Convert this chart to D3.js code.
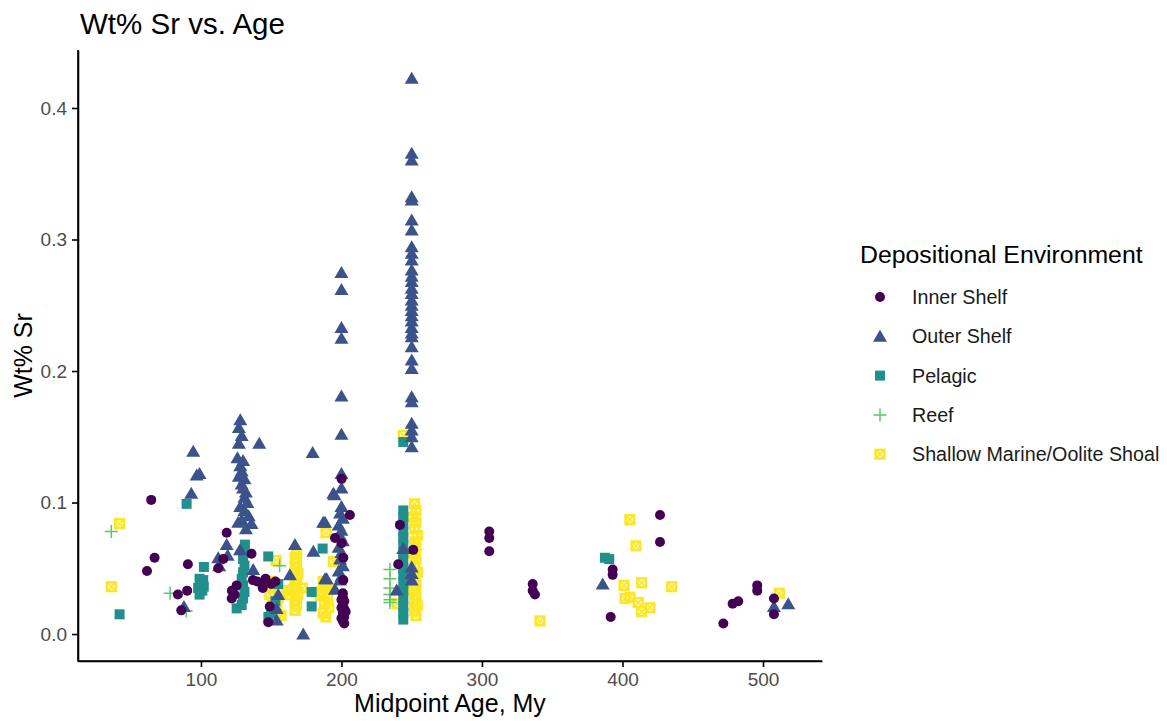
<!DOCTYPE html>
<html>
<head>
<meta charset="utf-8">
<script src="https://cdn.jsdelivr.net/npm/d3@7"></script>
<style>
  body { margin: 0; background: #fff; font-family: "Liberation Sans", Arial, sans-serif; }
  .axis text { fill: #4d4d4d; font-size: 19px; font-family: "Liberation Sans", Arial, sans-serif; }
  .axis path, .axis line { stroke: #000; stroke-width: 1.6; }
</style>
</head>
<body>
<script>
// values: [midpoint age (My), wt% Sr]
var innerShelf = [
    [64.6, 0.102], [67, 0.058], [61.6, 0.048], [90.7, 0.053], [83.6, 0.030], [90.2, 0.033], [86, 0.018],
    [118.3, 0.077], [136, 0.061], [115.9, 0.057], [112.3, 0.050], [125.4, 0.037], [121.9, 0.027],
    [122, 0.033], [124, 0.030], [137, 0.041], [140, 0.040], [143, 0.039], [146, 0.042], [150, 0.038],
    [153, 0.040], [149, 0.021], [147.9, 0.009], [144, 0.035],
    [206, 0.0905], [195.4, 0.073], [200.1, 0.069], [201.3, 0.058], [201.3, 0.041], [200.1, 0.118],
    [201, 0.031], [201, 0.028], [202, 0.025], [201, 0.022], [202, 0.019], [201, 0.016], [202, 0.013],
    [201, 0.010], [202, 0.008], [200, 0.026], [200, 0.020], [203, 0.017], [200, 0.012],
    [241.6, 0.083], [251.1, 0.064], [240.4, 0.053],
    [305.2, 0.078], [305.2, 0.073], [305.2, 0.063], [336.1, 0.038], [336.1, 0.033], [337.7, 0.030],
    [426.7, 0.0905], [426.7, 0.070], [393, 0.049], [393, 0.045], [391.6, 0.013],
    [471.8, 0.008], [478.4, 0.023], [482.4, 0.025], [495.9, 0.037], [495.9, 0.033], [507.8, 0.027], [507.8, 0.015]
];

var outerShelf = [
    [93.1, 0.107], [94.5, 0.139], [97, 0.121], [99, 0.122], [87.9, 0.021],
    [128, 0.163], [127, 0.157], [129, 0.151], [127, 0.145], [126, 0.134], [130, 0.132], [128, 0.128],
    [129, 0.124], [127, 0.120], [131, 0.118], [129, 0.114], [130, 0.111], [132, 0.108], [131, 0.104],
    [133, 0.100], [128, 0.097], [131, 0.094], [134, 0.090], [129, 0.087], [126.5, 0.085], [136, 0.084],
    [132, 0.080], [141.5, 0.145],
    [118.3, 0.068], [127.8, 0.064], [112.3, 0.058], [137.2, 0.049], [113, 0.052], [119, 0.060],
    [153.9, 0.0106], [153.9, 0.0195], [155, 0.030], [166.9, 0.068], [163.3, 0.045], [172.8, 0.0],
    [180, 0.063], [188.3, 0.085], [188.3, 0.042], [194.2, 0.107], [195.4, 0.034], [189.5, 0.042],
    [187, 0.085], [179.5, 0.138],
    [200, 0.275], [200, 0.262], [200, 0.233], [200, 0.225], [200, 0.181], [200, 0.152], [200, 0.122],
    [200, 0.111], [195, 0.106], [200, 0.097], [199, 0.092], [201, 0.088], [198, 0.083], [200, 0.079],
    [199, 0.075], [201, 0.071], [198, 0.066], [200, 0.062], [199, 0.057], [201, 0.052], [198, 0.048],
    [200, 0.044], [199, 0.041],
    [250, 0.4226], [250, 0.3655], [250, 0.3605], [250, 0.3326], [250, 0.3300], [250, 0.3148], [250, 0.3072],
    [250, 0.2945], [250, 0.2895], [250, 0.2844], [250, 0.2768], [250, 0.272], [250, 0.268], [250, 0.263],
    [250, 0.259], [250, 0.254], [250, 0.250], [250, 0.246], [250, 0.242], [250, 0.238], [250, 0.233],
    [250, 0.229], [250, 0.226], [250, 0.2185], [250, 0.2084], [250, 0.202], [250, 0.1805], [250, 0.1767],
    [250, 0.1602], [250, 0.1551], [250, 0.150], [250, 0.1424],
    [244, 0.065], [250, 0.051], [250, 0.046], [250, 0.041], [239.3, 0.0335],
    [385.9, 0.038], [507.8, 0.021], [518, 0.023]
];

var pelagic = [
    [89.8, 0.099], [42.1, 0.015], [102.1, 0.051], [101.6, 0.041], [99, 0.042], [100, 0.038], [98, 0.035],
    [101, 0.033], [99, 0.030], [102, 0.036],
    [131.3, 0.068], [130, 0.062], [130, 0.057], [131, 0.052], [130, 0.047], [129, 0.042], [130, 0.037],
    [131, 0.032], [130, 0.027], [129, 0.022], [125.4, 0.0195],
    [147.9, 0.059], [186.6, 0.065], [178.8, 0.032], [178.8, 0.021], [155, 0.038], [148, 0.013],
    [150, 0.016], [153, 0.025],
    [244, 0.094], [244, 0.089], [244, 0.084], [244, 0.078], [244, 0.073], [244, 0.068], [244, 0.062],
    [244, 0.056], [244, 0.050], [244, 0.045], [244, 0.039], [244, 0.033], [244, 0.027], [244, 0.021],
    [244, 0.016], [244, 0.011], [244, 0.146],
    [387.5, 0.058], [390.6, 0.057]
];

var reef = [
    [36.2, 0.078], [78.1, 0.031], [89.5, 0.0175], [156, 0.052],
    [234.5, 0.049], [234.5, 0.042], [234.5, 0.035], [234.5, 0.030], [234.5, 0.026], [234.5, 0.024]
];

var shallowMarine = [
    [42.1, 0.084], [36.2, 0.036],
    [153.4, 0.056], [168.1, 0.061], [189, 0.077], [194.2, 0.055],
    [150, 0.040], [152, 0.035], [149, 0.030], [155, 0.028], [151, 0.024], [154, 0.020], [150, 0.016],
    [157, 0.014], [153, 0.012], [158, 0.033],
    [167, 0.058], [168, 0.054], [167, 0.050], [169, 0.046], [167, 0.042], [168, 0.038], [166, 0.034],
    [169, 0.030], [167, 0.026], [168, 0.022], [167, 0.018], [163, 0.030], [172, 0.035],
    [187, 0.040], [189, 0.036], [186, 0.032], [190, 0.028], [188, 0.024], [191, 0.020], [187, 0.016],
    [189, 0.013], [185, 0.029], [192, 0.034],
    [252, 0.099], [253, 0.094], [251, 0.089], [253, 0.085], [252, 0.080], [254, 0.075], [252, 0.070],
    [253, 0.066], [251, 0.061], [253, 0.057], [252, 0.052], [254, 0.047], [252, 0.043], [253, 0.038],
    [251, 0.034], [253, 0.030], [252, 0.026], [254, 0.022], [252, 0.018], [253, 0.014], [244, 0.151],
    [239.7, 0.023],
    [341.3, 0.010], [405.3, 0.087], [409.6, 0.067], [401.1, 0.037], [413.7, 0.039], [435, 0.036],
    [401.8, 0.027], [405.3, 0.028], [411.2, 0.024], [419.6, 0.020], [413.7, 0.017], [511.6, 0.031]
];

var groupNames = ["Inner Shelf", "Outer Shelf", "Pelagic", "Reef", "Shallow Marine/Oolite Shoal"];
var groupColors = ["#440154", "#3b528b", "#21908c", "#5dc863", "#fde725"];
var groupShapes = ["circle", "triangle", "square", "plus", "squarecross"];
var xTicks = [100, 200, 300, 400, 500];
var yTicks = [0, 0.1, 0.2, 0.3, 0.4];

var svgContainer,
    svgWidth = 1167,
    svgHeight = 721,
    plot = { left: 78, right: 822, top: 50, bottom: 661 },
    xScale = d3.scaleLinear().domain([12.5, 542]).range([plot.left, plot.right]),
    yScale = d3.scaleLinear().domain([-0.0205, 0.4441]).range([plot.bottom, plot.top]);

function init() {
    svgContainer = d3.select("body").append("svg")
        .attr("width", svgWidth)
        .attr("height", svgHeight);

    drawAxes();
    // draw order roughly matches the overlaps in the picture
    drawPoints(shallowMarine, 4);
    drawPoints(pelagic, 2);
    drawPoints(reef, 3);
    drawPoints(outerShelf, 1);
    drawPoints(innerShelf, 0);
    drawLegend();

    svgContainer.append("text")
        .attr("x", 80).attr("y", 34)
        .style("font-size", "29.5px").style("fill", "#000")
        .text("Wt% Sr vs. Age");
}

function drawAxes() {
    svgContainer.append("g")
        .attr("class", "axis")
        .attr("transform", "translate(0," + plot.bottom + ")")
        .call(d3.axisBottom(xScale).tickValues(xTicks).tickSize(6).tickSizeOuter(0).tickPadding(6));

    svgContainer.append("g")
        .attr("class", "axis")
        .attr("transform", "translate(" + plot.left + ",0)")
        .call(d3.axisLeft(yScale).tickValues(yTicks).tickFormat(d3.format(".1f"))
            .tickSize(6).tickSizeOuter(0).tickPadding(5));

    // extend the axis lines so they meet in the corner
    svgContainer.append("path")
        .attr("d", "M" + plot.left + "," + plot.top + "V" + plot.bottom + "H" + plot.right)
        .attr("fill", "none").attr("stroke", "#000").attr("stroke-width", 1.6);

    svgContainer.append("text")
        .attr("x", (plot.left + plot.right) / 2).attr("y", 712)
        .attr("text-anchor", "middle")
        .style("font-size", "25px")
        .text("Midpoint Age, My");

    svgContainer.append("text")
        .attr("transform", "translate(32," + ((plot.top + plot.bottom) / 2) + ") rotate(-90)")
        .attr("text-anchor", "middle")
        .style("font-size", "25px")
        .text("Wt% Sr");
}

function drawShape(g, shape, color) {
    if (shape === "circle") {
        g.append("circle").attr("r", 5).attr("fill", color);
    } else if (shape === "triangle") {
        g.append("path").attr("d", "M0,-6.5L7,5.5L-7,5.5Z").attr("fill", color);
    } else if (shape === "square") {
        g.append("rect").attr("x", -5).attr("y", -5).attr("width", 10).attr("height", 10).attr("fill", color);
    } else if (shape === "plus") {
        g.append("path").attr("d", "M-6.5,0H6.5M0,-6.5V6.5")
            .attr("stroke", color).attr("stroke-width", 1.5).attr("fill", "none");
    } else {
        g.append("rect").attr("x", -4.3).attr("y", -4.3).attr("width", 8.6).attr("height", 8.6)
            .attr("fill", "none").attr("stroke", color).attr("stroke-width", 2.6);
        g.append("path").attr("d", "M-4.3,-4.3L4.3,4.3M4.3,-4.3L-4.3,4.3")
            .attr("stroke", color).attr("stroke-width", 1.6).attr("fill", "none");
    }
}

function drawPoints(points, i) {
    points.forEach(function (p) {
        var g = svgContainer.append("g")
            .attr("transform", "translate(" + xScale(p[0]) + "," + yScale(p[1]) + ")");
        drawShape(g, groupShapes[i], groupColors[i]);
    });
}

function drawLegend() {
    svgContainer.append("text")
        .attr("x", 860).attr("y", 263)
        .style("font-size", "24.8px")
        .text("Depositional Environment");

    groupNames.forEach(function (name, i) {
        var y = 297 + i * 39.3;
        var g = svgContainer.append("g").attr("transform", "translate(880," + y + ")");
        drawShape(g, groupShapes[i], groupColors[i]);
        svgContainer.append("text")
            .attr("x", 912).attr("y", y + 7)
            .style("font-size", "19.7px").style("fill", "#1a1a1a")
            .text(name);
    });
}

init();
</script>
</body>
</html>
